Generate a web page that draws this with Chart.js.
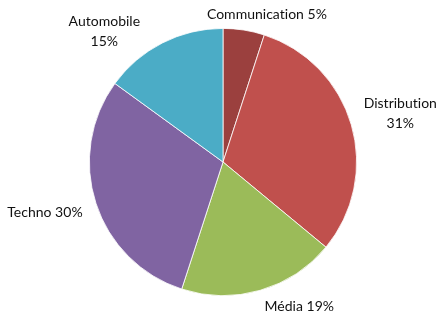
<!DOCTYPE html>
<html>
<head>
<meta charset="utf-8">
<script src="https://cdn.jsdelivr.net/npm/chart.js@4/dist/chart.umd.min.js"></script>
<style>
html,body{margin:0;padding:0;background:#fff;}
#wrap{width:439px;height:318px;position:relative;}
</style>
</head>
<body>
<div id="wrap"><canvas id="c" width="439" height="318"></canvas></div>
<script>
const categories = ["Communication", "Distribution", "Média", "Techno", "Automobile"];
const values = [5, 31, 19, 30, 15];
const labelLines = [["Communication 5%"], ["Distribution", "31%"], ["Média 19%"], ["Techno 30%"], ["Automobile", "15%"]];
const colors = ["#9B403E", "#C0504D", "#9BBB59", "#8064A2", "#4BACC6"];
// label offsets from the arc's mid-angle outer point
const labelOffsets = [[23, -16], [49, -11], [39, 16], [-51, 9], [-58, -11]];

const labelPlugin = {
  id: 'outLabels',
  afterDatasetsDraw(chart) {
    const ctx = chart.ctx;
    const meta = chart.getDatasetMeta(0);
    ctx.save();
    ctx.font = '14px Lato, "Open Sans", sans-serif';
    if ('letterSpacing' in ctx) ctx.letterSpacing = '0.01px';
    ctx.fillStyle = '#111111';
    ctx.textAlign = 'center';
    ctx.textBaseline = 'middle';
    meta.data.forEach((arc, i) => {
      const p = arc.getProps(['x', 'y', 'startAngle', 'endAngle', 'outerRadius'], true);
      const mid = (p.startAngle + p.endAngle) / 2;
      const ax = p.x + Math.cos(mid) * p.outerRadius + labelOffsets[i][0];
      const ay = p.y + Math.sin(mid) * p.outerRadius + labelOffsets[i][1];
      const lines = labelLines[i];
      const lh = 20;
      lines.forEach((t, j) => {
        ctx.fillText(t, ax, ay + (j - (lines.length - 1) / 2) * lh);
      });
    });
    ctx.restore();
  }
};

new Chart(document.getElementById('c'), {
  type: 'pie',
  data: {
    labels: categories,
    datasets: [{
      data: values,
      backgroundColor: colors,
      borderColor: '#ffffff',
      borderWidth: 0.8
    }]
  },
  options: {
    responsive: false,
    animation: false,
    layout: { padding: { left: 89, right: 82, top: 28, bottom: 22 } },
    plugins: { legend: { display: false }, tooltip: { enabled: false } }
  },
  plugins: [labelPlugin]
});
</script>
</body>
</html>
